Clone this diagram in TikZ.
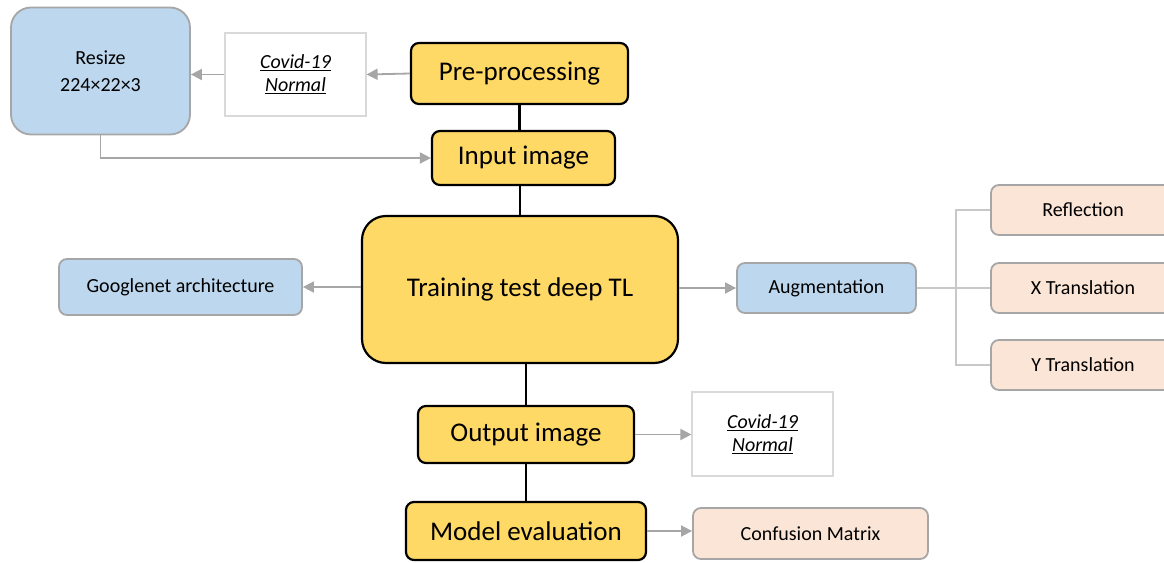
\documentclass[tikz,border=0pt]{standalone}
\usepackage{fontspec}
\setmainfont{Carlito}
\usetikzlibrary{arrows.meta}
\definecolor{stageyellow}{HTML}{FFD966}
\definecolor{sideblue}{HTML}{BDD7EE}
\definecolor{augpeach}{HTML}{FBE5D6}
\definecolor{edgegray}{HTML}{A6A6A6}
\definecolor{boxgray}{HTML}{D9D9D9}
\definecolor{treegray}{HTML}{C8C8C8}
\tikzset{
  stage/.style={draw=black, fill=stageyellow, line width=2.2pt, rounded corners=8pt, inner sep=0pt, font=\fontsize{27}{31}\selectfont},
  side/.style={draw=edgegray, fill=sideblue, line width=1.8pt, rounded corners=8pt, inner sep=0pt, font=\fontsize{20}{23}\selectfont},
  aug/.style={draw=edgegray, fill=augpeach, line width=1.8pt, rounded corners=8pt, inner sep=0pt, font=\fontsize{20}{23}\selectfont},
  result/.style={draw=boxgray, fill=white, line width=1.2pt, inner sep=0pt, align=center, font=\fontsize{20}{23}\selectfont\itshape},
  flow/.style={draw=edgegray, line width=1.8pt, -{Triangle[length=11pt,width=11pt]}},
  link/.style={draw=black, line width=2.2pt},
  tree/.style={draw=treegray, line width=1.2pt},
}
\newcommand{\cls}[1]{\underline{#1}}

\begin{document}
\begin{tikzpicture}[x=1pt, y=-1pt]
  \useasboundingbox (0,0) rectangle (1164,562);

  % main column
  \node[stage, minimum width=217pt, minimum height=61pt] (pre) at (519.5,73.5) {Pre-processing};
  \node[stage, minimum width=183pt, minimum height=54pt] (input) at (523.5,158) {Input image};
  \node[stage, minimum width=316pt, minimum height=147pt, rounded corners=24pt] (train) at (520,289.5) {Training test deep TL};
  \node[stage, minimum width=216pt, minimum height=57pt] (output) at (526,434.5) {Output image};
  \node[stage, minimum width=240pt, minimum height=58pt] (eval) at (526,531) {Model evaluation};

  % left side
  \node[result, minimum width=141pt, minimum height=83pt] (cls1) at (295.5,74.5) {\cls{Covid-19}\\\cls{Normal}};
  \node[side, minimum width=179pt, minimum height=127pt, rounded corners=20pt, align=center, font=\fontsize{20}{27}\selectfont] (resize) at (100.5,71) {Resize\\224×22×3};
  \node[side, minimum width=243pt, minimum height=56pt] (gnet) at (180.5,287) {Googlenet architecture};

  % right side
  \node[side, minimum width=179pt, minimum height=50pt] (augm) at (826.5,288) {Augmentation};
  \node[aug, minimum width=184pt, minimum height=50pt] (refl) at (1083,210) {Reflection};
  \node[aug, minimum width=184pt, minimum height=50pt] (xtr) at (1083,288) {X Translation};
  \node[aug, minimum width=184pt, minimum height=50pt] (ytr) at (1083,365) {Y Translation};
  \node[result, minimum width=141pt, minimum height=84pt] (cls2) at (762.5,434) {\cls{Covid-19}\\\cls{Normal}};
  \node[aug, minimum width=235pt, minimum height=51pt] (conf) at (810.5,533.5) {Confusion Matrix};

  % connectors
  \draw[link] (pre.south) -- (pre.south |- input.north);
  \draw[link] (input.south -| train) -- (train.north);
  \draw[link] (train.south -| output) -- (output);
  \draw[link] (output) -- (eval);

  \draw[flow] (pre.west) -- (cls1.east);
  \draw[flow] (cls1.west) -- (resize.east |- cls1.west);
  \draw[flow] (resize.south) |- (input.west);
  \draw[flow] (train.west |- gnet.east) -- (gnet.east);
  \draw[flow] (train.east |- augm.west) -- (augm.west);
  \draw[flow] (output.east) -- (cls2.west |- output.east);
  \draw[flow] (eval.east) -- (conf.west |- eval.east);

  \coordinate (fork) at (956,288);
  \draw[tree] (augm.east) -- (xtr.west);
  \draw[tree] (refl.west) -| (fork) |- (ytr.west);
\end{tikzpicture}
\end{document}
